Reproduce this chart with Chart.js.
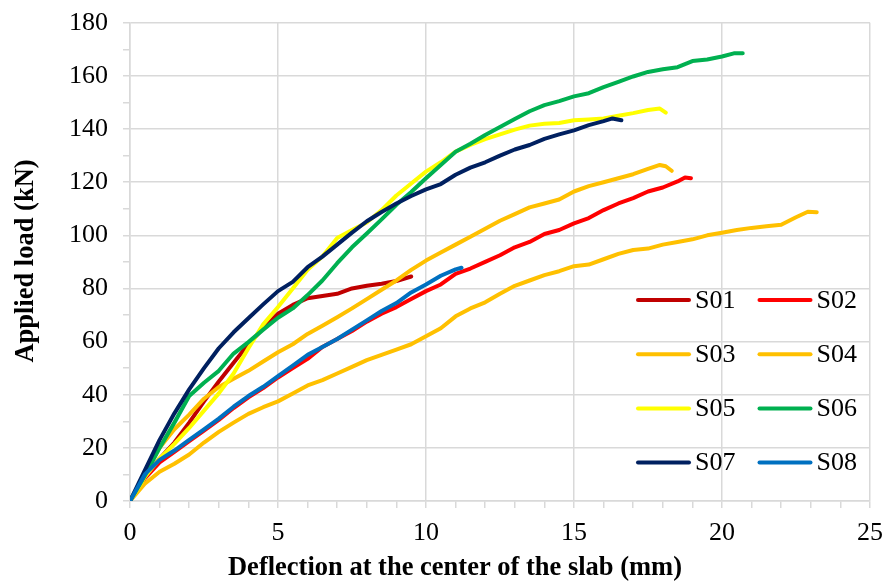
<!DOCTYPE html>
<html>
<head>
<meta charset="utf-8">
<script src="https://cdn.jsdelivr.net/npm/chart.js@4"></script>
<style>
    html, body { margin: 0; padding: 0; background: #fff; }
</style>
</head>
<body>
<canvas id="loadChart" width="893" height="581"></canvas>
<script>
// ----------------------------------------------------
// Data (mm, kN)
// ----------------------------------------------------
const seriesNames = ["S01", "S02", "S03", "S04", "S05", "S06", "S07", "S08"];
const seriesColors = ["#c00000", "#ff0000", "#ffc000", "#ffc000", "#ffff00", "#00b050", "#002060", "#0070c0"];

const s01X = [0, 0.5, 1, 1.5, 2, 2.5, 3, 3.5, 4, 4.5, 5, 5.5, 6, 6.5, 7, 7.5, 8, 8.5, 9, 9.5];
const s01Y = [0, 9, 16, 22, 29.5, 37.5, 45, 52, 59, 65, 70.5, 73.8, 76.3, 77.2, 78, 80, 81, 81.8, 82.8, 84.5];

const s02X = [0, 0.5, 1, 1.5, 2, 2.5, 3, 3.5, 4, 4.5, 5, 5.5, 6, 6.5, 7, 7.5, 8, 8.5, 9, 9.5, 10, 10.5, 11, 11.5, 12, 12.5, 13, 13.5, 14, 14.5, 15, 15.5, 16, 16.5, 17, 17.5, 18, 18.5, 18.75, 18.95];
const s02Y = [0, 8.5, 14.5, 18.5, 22.5, 26.5, 30.5, 35, 39, 42.5, 46.5, 50, 53.5, 58, 61, 64, 67.5, 70.5, 73, 76, 79, 81.5, 85.5, 87.5, 90, 92.5, 95.5, 97.5, 100.5, 102, 104.5, 106.5, 109.5, 112, 114, 116.5, 118, 120.3, 121.8, 121.5];

const s03X = [0, 0.5, 1, 1.5, 2, 2.5, 3, 3.5, 4, 4.5, 5, 5.5, 6, 6.5, 7, 7.5, 8, 8.5, 9, 9.5, 10, 10.5, 11, 11.5, 12, 12.5, 13, 13.5, 14, 14.5, 15, 15.5, 16, 16.5, 17, 17.5, 17.9, 18.1, 18.3];
const s03Y = [0, 10.5, 20, 27, 32.5, 38.5, 42.9, 46, 49, 52.5, 56, 59, 62.9, 66, 69.2, 72.5, 76, 79.5, 83, 87, 90.5, 93.5, 96.5, 99.5, 102.5, 105.5, 108, 110.5, 112, 113.5, 116.5, 118.5, 120, 121.5, 123, 125, 126.5, 126, 124.3];

const s04X = [0, 0.5, 1, 1.5, 2, 2.5, 3, 3.5, 4, 4.5, 5, 5.5, 6, 6.5, 7, 7.5, 8, 8.5, 9, 9.5, 10, 10.5, 11, 11.5, 12, 12.5, 13, 13.5, 14, 14.5, 15, 15.5, 16, 16.5, 17, 17.5, 18, 18.5, 19, 19.5, 20, 20.5, 21, 21.5, 22, 22.5, 22.9, 23.2];
const s04Y = [0, 6.5, 11, 14, 17.5, 22, 26, 29.5, 32.8, 35.3, 37.5, 40.5, 43.5, 45.5, 48, 50.5, 53, 55, 57, 59, 62, 65, 69.5, 72.5, 74.8, 78, 81, 83, 85, 86.5, 88.4, 89, 91, 93, 94.5, 95, 96.5, 97.5, 98.5, 100, 101, 102, 102.8, 103.4, 104, 106.8, 108.9, 108.7];

const s05X = [0, 0.5, 1, 1.5, 2, 2.5, 3, 3.5, 4, 4.5, 5, 5.5, 6, 6.5, 7, 7.5, 8, 8.5, 9, 9.5, 10, 10.5, 11, 11.5, 12, 12.5, 13, 13.5, 14, 14.5, 15, 15.5, 16, 16.5, 17, 17.5, 17.9, 18.1];
const s05Y = [0, 9, 16, 21.5, 27.5, 34, 40.5, 48, 57.5, 66.5, 73, 80, 87, 92, 99, 102, 104.8, 109.5, 115, 119.5, 124, 127.5, 131.5, 134, 136.2, 138, 139.8, 141.3, 142, 142.3, 143.3, 143.6, 144, 145, 146, 147.2, 147.7, 146.2];

const s06X = [0, 0.5, 1, 1.5, 2, 2.5, 3, 3.5, 4, 4.5, 5, 5.5, 6, 6.5, 7, 7.5, 8, 8.5, 9, 9.5, 10, 10.5, 11, 11.5, 12, 12.5, 13, 13.5, 14, 14.5, 15, 15.5, 16, 16.5, 17, 17.5, 18, 18.5, 19, 19.5, 20, 20.4, 20.7];
const s06Y = [0, 9.5, 20, 29.5, 39.5, 44.5, 49, 55.5, 59.8, 64.5, 69, 72.5, 77.5, 83, 89.5, 95.5, 100.7, 106, 111.5, 116.3, 121.5, 126.5, 131.5, 134.5, 137.8, 140.8, 143.8, 146.7, 149, 150.5, 152.3, 153.5, 155.8, 157.8, 159.8, 161.5, 162.5, 163.3, 165.6, 166.2, 167.3, 168.5, 168.5];

const s07X = [0, 0.5, 1, 1.5, 2, 2.5, 3, 3.5, 4, 4.5, 5, 5.5, 6, 6.5, 7, 7.5, 8, 8.5, 9, 9.5, 10, 10.5, 11, 11.5, 12, 12.5, 13, 13.5, 14, 14.5, 15, 15.5, 16, 16.3, 16.6];
const s07Y = [0, 11.5, 23, 33, 42, 50, 57.5, 63.5, 68.8, 74, 79, 82.5, 88, 92, 96.5, 101, 105.3, 108.8, 112, 114.8, 117.3, 119.3, 122.8, 125.5, 127.5, 130, 132.3, 134, 136.3, 138, 139.5, 141.5, 143, 144, 143.3];

const s08X = [0, 0.5, 1, 1.5, 2, 2.5, 3, 3.5, 4, 4.5, 5, 5.5, 6, 6.5, 7, 7.5, 8, 8.5, 9, 9.5, 10, 10.5, 11, 11.2];
const s08Y = [0, 10, 15.5, 19, 23, 27, 31, 35.5, 39.5, 43, 47, 51, 55, 58, 61, 64.5, 68, 71.5, 74.5, 78.5, 81.5, 84.8, 87.2, 87.8];

const xTitle = "Deflection at the center of the slab (mm)";
const yTitle = "Applied load (kN)";

const allX = [s01X, s02X, s03X, s04X, s05X, s06X, s07X, s08X];
const allY = [s01Y, s02Y, s03Y, s04Y, s05Y, s06Y, s07Y, s08Y];

const gridColor = "#d9d9d9";
const serif = '"Liberation Serif", "Times New Roman", serif';

// later series sit on top, like the spreadsheet chart
const datasets = seriesNames.map((name, i) => ({
    label: name,
    data: allX[i].map((x, k) => ({ x: x, y: allY[i][k] })),
    borderColor: seriesColors[i],
    backgroundColor: seriesColors[i],
    borderWidth: 4,
    borderCapStyle: "round",
    borderJoinStyle: "round",
    pointRadius: 0,
    tension: 0,
    fill: false,
    order: seriesNames.length - i
}));

// Axis titles and the two-column legend, drawn by hand
const extras = {
    id: "extras",
    afterDraw(chart) {
        const ctx = chart.ctx;
        ctx.save();
        ctx.fillStyle = "#000";
        ctx.font = "bold 26.5px " + serif;
        ctx.textAlign = "center";
        ctx.textBaseline = "alphabetic";
        ctx.fillText(xTitle, 455, 575);
        ctx.save();
        ctx.translate(33, 261);
        ctx.rotate(-Math.PI / 2);
        ctx.fillText(yTitle, 0, 0);
        ctx.restore();

        ctx.font = "26px " + serif;
        ctx.textAlign = "left";
        ctx.textBaseline = "middle";
        ctx.lineCap = "round";
        ctx.lineWidth = 4;
        seriesNames.forEach((name, i) => {
            const col = i % 2;
            const row = Math.floor(i / 2);
            const x0 = 638 + col * 121.5;
            const y = 300 + row * 54.2;
            ctx.strokeStyle = seriesColors[i];
            ctx.beginPath();
            ctx.moveTo(x0, y);
            ctx.lineTo(x0 + 51, y);
            ctx.stroke();
            ctx.fillText(name, x0 + 57, y + 1);
        });
        ctx.restore();
    }
};

new Chart(document.getElementById("loadChart"), {
    type: "line",
    data: { datasets: datasets },
    options: {
        responsive: false,
        animation: false,
        layout: { padding: { top: 22, right: 16, left: 0, bottom: 0 } },
        plugins: {
            legend: { display: false },
            tooltip: { enabled: false }
        },
        scales: {
            x: {
                type: "linear",
                min: 0,
                max: 25,
                afterFit: (scale) => { scale.height = 80; },
                border: { color: gridColor, width: 1.5 },
                grid: {
                    color: (c) => (c.tick && c.tick.value % 5 === 0) ? gridColor : "rgba(0,0,0,0)",
                    lineWidth: 1.5,
                    tickColor: gridColor,
                    tickLength: 7
                },
                ticks: {
                    stepSize: 1,
                    autoSkip: false,
                    maxRotation: 0,
                    padding: 10,
                    color: "#000",
                    font: { family: serif, size: 26 },
                    callback: (v) => v % 5 === 0 ? v : ""
                }
            },
            y: {
                min: 0,
                max: 180,
                afterFit: (scale) => { scale.width = 130; },
                border: { color: gridColor, width: 1.5 },
                grid: {
                    color: (c) => (c.tick && c.tick.value % 20 === 0) ? gridColor : "rgba(0,0,0,0)",
                    lineWidth: 1.5,
                    tickColor: gridColor,
                    tickLength: 7
                },
                ticks: {
                    stepSize: 10,
                    autoSkip: false,
                    padding: 15,
                    color: "#000",
                    font: { family: serif, size: 26, lineHeight: 0.6 },
                    callback: (v) => v % 20 === 0 ? v : ""
                }
            }
        }
    },
    plugins: [extras]
});
</script>
</body>
</html>
